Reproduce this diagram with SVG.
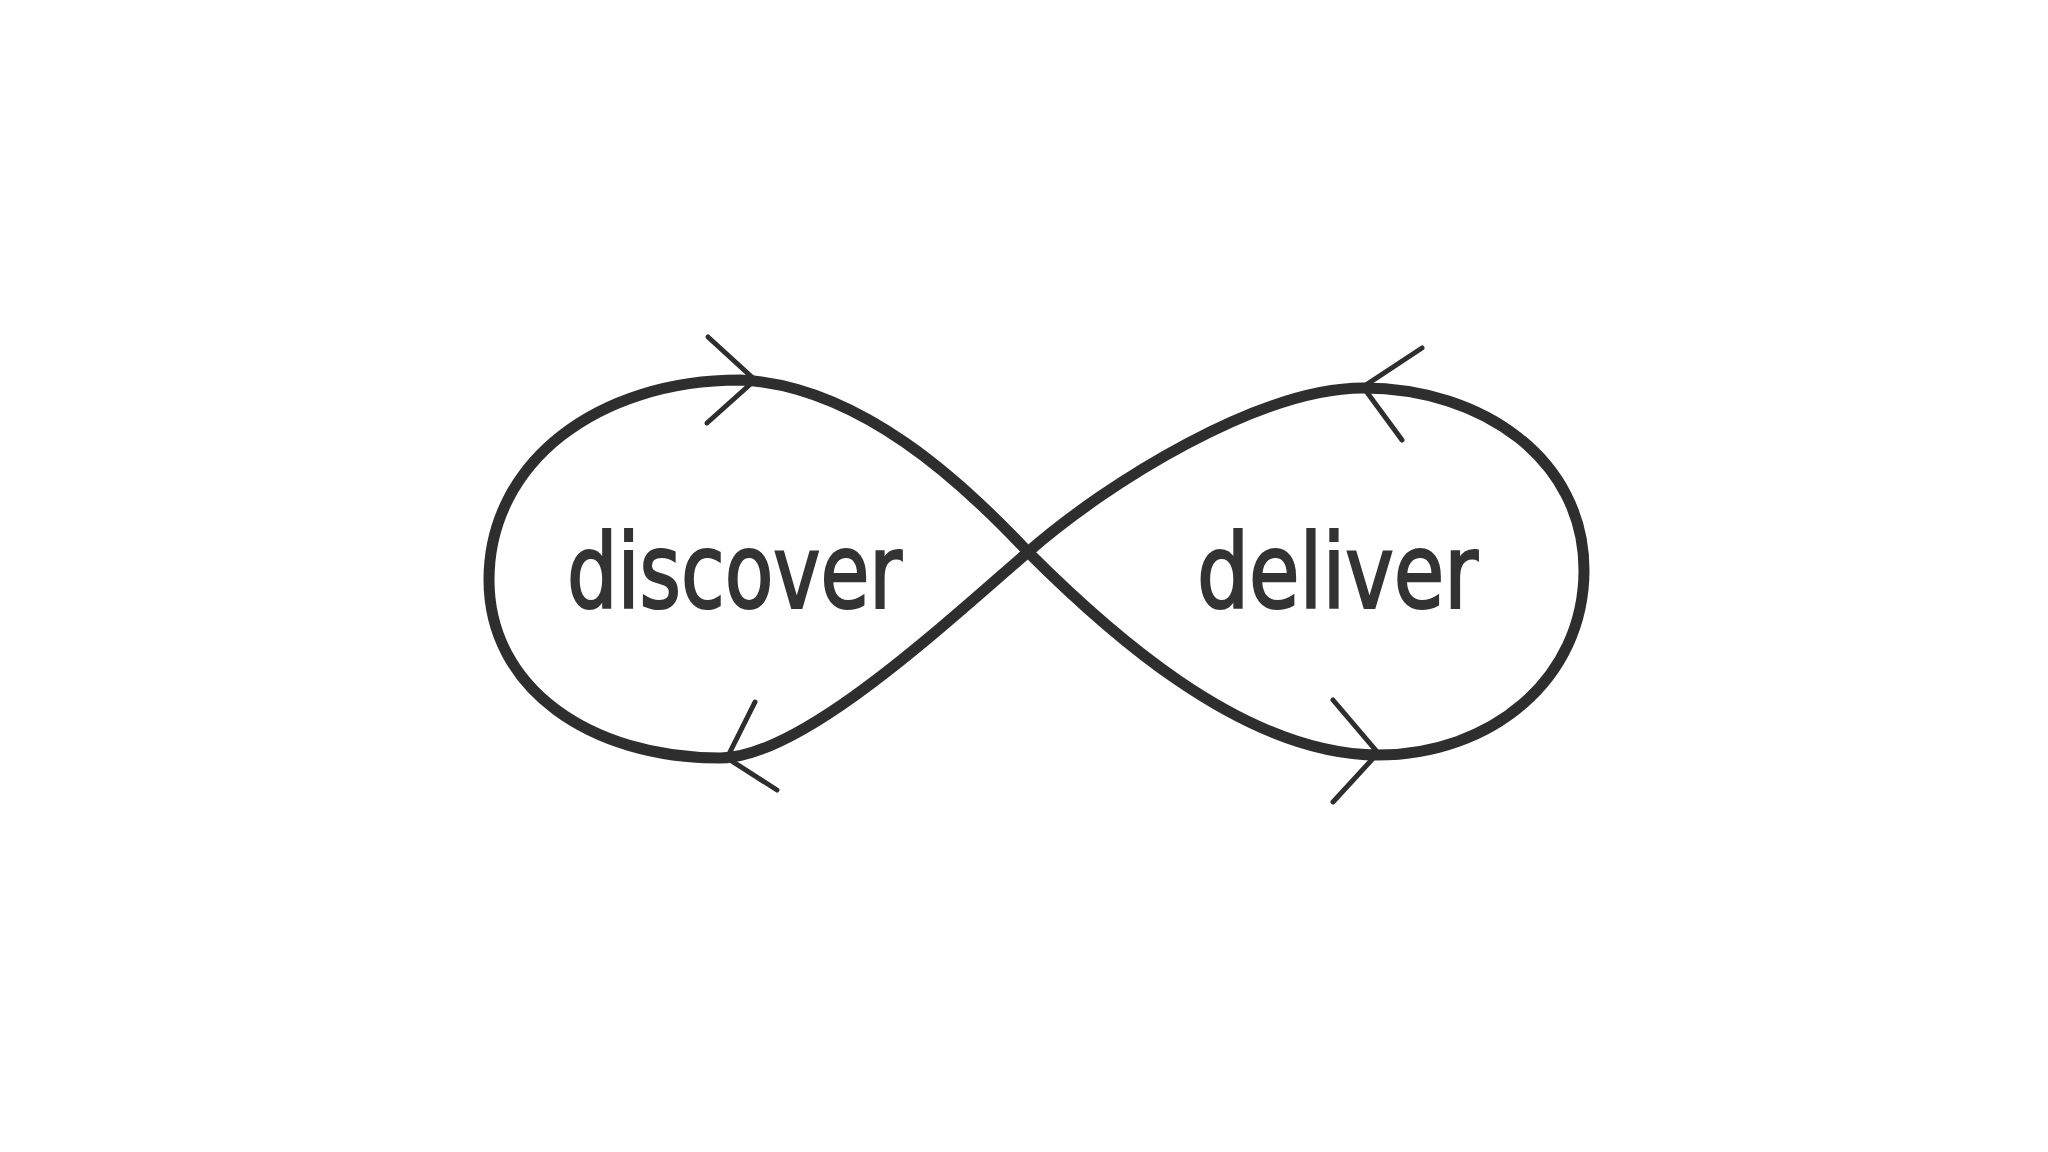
<svg xmlns="http://www.w3.org/2000/svg" width="2048" height="1152" viewBox="0 0 2048 1152">
<style>
.loop{fill:none;stroke:#2e2e2e;stroke-width:11;stroke-linecap:round;stroke-linejoin:round}
.barb{fill:none;stroke:#2e2e2e;stroke-width:5;stroke-linecap:round}
.lbl{font-family:"Liberation Sans Narrow","DejaVu Sans Condensed","Liberation Sans",Arial,sans-serif;font-size:104px;fill:#333333;stroke:#333333;stroke-width:2.2}
</style>
<rect width="2048" height="1152" fill="#ffffff"/>
<g id="connectors">
<path class="loop" d="M1028,552 C1100,624 1240,755 1378,755 C1490,755 1584,680 1584,570 C1584,460 1483,388 1363,388 C1260,388 1108,482 1028,552 C938,630 800,758 720,758 C590,758 489,688 489,580 C489,462 598,380 740,380 C860,385 965,485 1028,552 Z"/>
<g id="arrow-top-left"><path class="barb" d="M708,337 L755,380 L707,423"/></g>
<g id="arrow-bottom-left"><path class="barb" d="M755,702 L727,758 L777,790"/></g>
<g id="arrow-top-right"><path class="barb" d="M1422,348 L1363,387 L1402,440"/></g>
<g id="arrow-bottom-right"><path class="barb" d="M1333,700 L1378,753 L1333,802"/></g>
</g>
<g id="discover"><text class="lbl" x="567" y="608" textLength="335" lengthAdjust="spacingAndGlyphs">discover</text></g>
<g id="deliver"><text class="lbl" x="1197" y="608" textLength="281" lengthAdjust="spacingAndGlyphs">deliver</text></g>
</svg>
